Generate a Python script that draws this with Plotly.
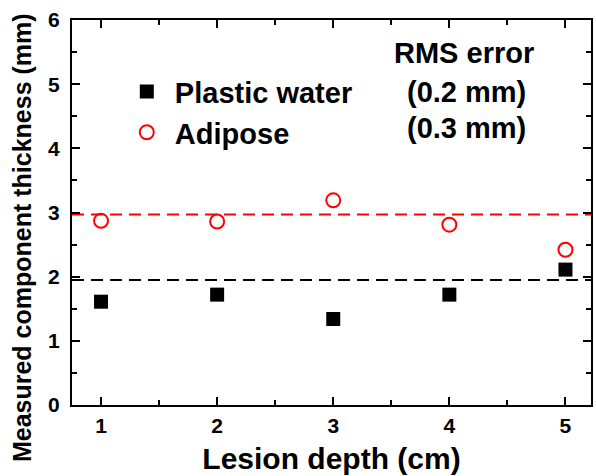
import plotly.graph_objects as go

depth = [1, 2, 3, 4, 5]
plastic_water = [1.61, 1.72, 1.34, 1.72, 2.11]
adipose = [2.87, 2.86, 3.19, 2.81, 2.42]
plastic_ref = 1.95
adipose_ref = 2.97
x_range = [0.75, 5.22]
y_ticks = [0, 1, 2, 3, 4, 5, 6]
rms_labels = ["RMS error", "(0.2 mm)", "(0.3 mm)"]
y_title = "Measured component thickness (mm)"

FONT = "Liberation Sans"
NB = "\u00a0"

fig = go.Figure()
fig.add_trace(go.Scatter(x=x_range, y=[adipose_ref, adipose_ref], mode="lines",
                         line=dict(color="#ff0000", dash="12px,7px", width=2), showlegend=False))
fig.add_trace(go.Scatter(x=x_range, y=[plastic_ref, plastic_ref], mode="lines",
                         line=dict(color="#000000", dash="12px,7px", width=2), showlegend=False))
fig.add_trace(go.Scatter(x=depth, y=plastic_water, mode="markers", name=f"<b>{NB}Plastic water</b>",
                         legendgroup="a",
                         marker=dict(symbol="square", size=14, color="black")))
fig.add_trace(go.Scatter(x=depth, y=adipose, mode="markers", name=f"<b>{NB}Adipose</b>",
                         legendgroup="b",
                         marker=dict(symbol="circle-open", size=14, color="#ff0000",
                                     line=dict(width=2, color="#ff0000"))))

axis_common = dict(
    showline=True, linecolor="black", linewidth=2, mirror="ticks",
    ticks="inside", ticklen=8, tickwidth=2, tickcolor="black",
    showgrid=False, zeroline=False,
    tickfont=dict(family=FONT, size=21, color="black"),
)

fig.update_xaxes(range=x_range, tickvals=depth, ticktext=[f"<b>{v}</b>" for v in depth],
                 ticklabelstandoff=1,
                 minor=dict(ticks="inside", ticklen=5, tickwidth=2, tickcolor="black", dtick=0.5, tick0=0.5),
                 title=dict(text="<b>Lesion depth (cm)</b>", font=dict(family=FONT, size=30, color="black"),
                            standoff=12),
                 **axis_common)
fig.update_yaxes(range=[0, 6], tickvals=y_ticks,
                 ticktext=[f"<b>{v}</b>" for v in y_ticks],
                 ticklabelstandoff=6,
                 minor=dict(ticks="inside", ticklen=5, tickwidth=2, tickcolor="black", dtick=0.5),
                 **axis_common)

fig.add_annotation(x=-0.096, y=0.434, xref="paper", yref="paper", text=f"<b>{y_title}</b>",
                   textangle=-90, showarrow=False, xanchor="center", yanchor="middle",
                   font=dict(family=FONT, size=25, color="black"))

ann_pos = [(0.894, 0.914), (0.879, 0.813), (0.879, 0.719)]
for txt, (ax, ay) in zip(rms_labels, ann_pos):
    fig.add_annotation(x=ax, y=ay, xref="paper", yref="paper", text=f"<b>{txt}</b>",
                       showarrow=False, xanchor="right", yanchor="middle",
                       font=dict(family=FONT, size=29, color="black"))

fig.update_layout(
    width=596, height=476,
    margin=dict(l=72, r=3, t=20, b=71),
    paper_bgcolor="white", plot_bgcolor="white",
    legend=dict(x=0.1056, y=0.88, xanchor="left", yanchor="top", bgcolor="rgba(0,0,0,0)",
                font=dict(family=FONT, size=29, color="black"), tracegroupgap=0,
                itemwidth=30),
    showlegend=True,
)

fig.write_html("out.html")
